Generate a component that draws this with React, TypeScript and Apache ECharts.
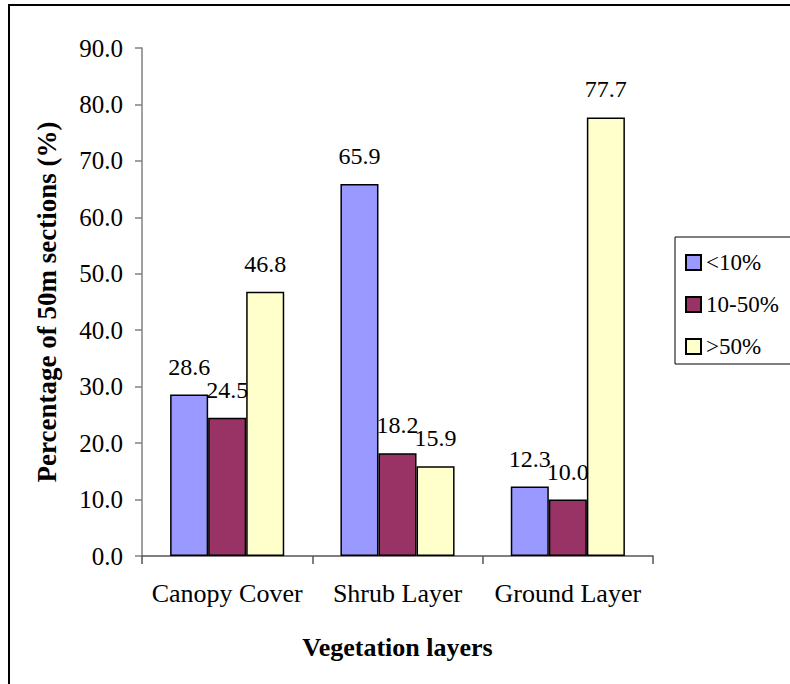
import React, { useEffect, useRef } from "react";
import * as echarts from "echarts";

const categories = ["Canopy Cover", "Shrub Layer", "Ground Layer"];
const seriesNames = ["<10%", "10-50%", ">50%"];
const lowValues = [28.6, 65.9, 12.3];
const midValues = [24.5, 18.2, 10.0];
const highValues = [46.8, 15.9, 77.7];
const seriesColors = ["#9999FF", "#993366", "#FFFFCC"];

const FONT = "Liberation Serif";
const BOLD_FONT = "Times New Roman";

export default function App() {
  const ref = useRef<HTMLDivElement>(null);
  useEffect(() => {
    document.body.style.margin = "0";
    if (!ref.current) return;
    const chart = echarts.init(ref.current, null, { renderer: "svg" });
    const dataSets = [lowValues, midValues, highValues];
    chart.setOption({
      animation: false,
      backgroundColor: "#ffffff",
      textStyle: { fontFamily: FONT, color: "#000" },
      grid: { left: 142, right: 137, top: 48, bottom: 128, containLabel: false },
      legend: {
        orient: "vertical",
        left: 675,
        top: 237,
        padding: [14, 13, 6, 10],
        itemGap: 19,
        itemWidth: 15,
        itemHeight: 15,
        borderColor: "#000",
        borderWidth: 1,
        icon: "rect",
        textStyle: { fontFamily: FONT, fontSize: 23, color: "#000" },
        data: seriesNames,
      },
      xAxis: {
        type: "category",
        data: categories,
        name: "Vegetation layers",
        nameLocation: "middle",
        nameGap: 78,
        nameTextStyle: { fontFamily: BOLD_FONT, fontSize: 26, fontWeight: "bold", color: "#000" },
        axisLine: { show: true, lineStyle: { color: "#555", width: 1.5 } },
        axisTick: { show: true, length: 8, lineStyle: { color: "#555", width: 1.5 } },
        axisLabel: { fontFamily: FONT, fontSize: 26, color: "#000", margin: 24, interval: 0 },
      },
      yAxis: {
        type: "value",
        min: 0,
        max: 90,
        interval: 10,
        name: "Percentage of 50m sections (%)",
        nameLocation: "middle",
        nameGap: 82,
        nameRotate: 90,
        nameTextStyle: { fontFamily: BOLD_FONT, fontSize: 27, fontWeight: "bold", color: "#000" },
        axisLine: { show: true, lineStyle: { color: "#808080", width: 1.5 } },
        axisTick: { show: true, length: 7, lineStyle: { color: "#808080", width: 1.5 } },
        axisLabel: {
          fontFamily: FONT,
          fontSize: 25,
          color: "#000",
          margin: 19,
          formatter: (v: number) => v.toFixed(1),
        },
        splitLine: { show: false },
      },
      series: seriesNames.map((name, i) => ({
        name,
        type: "bar",
        data: dataSets[i],
        barGap: "0%",
        barCategoryGap: "33%",
        itemStyle: { color: seriesColors[i], borderColor: "#000", borderWidth: 1.5 },
        label: {
          show: true,
          position: "top",
          distance: 16,
          fontFamily: FONT,
          fontSize: 24,
          color: "#000",
          formatter: (p: any) => Number(p.value).toFixed(1),
        },
      })),
    });
    return () => chart.dispose();
  }, []);
  return (
    <div style={{ position: "relative", width: 790, height: 684, overflow: "hidden" }}>
      <div ref={ref} style={{ width: 790, height: 684 }} />
      <div
        style={{
          position: "absolute",
          left: 8,
          top: 4,
          width: 800,
          height: 700,
          borderTop: "2.5px solid #000",
          borderLeft: "2.5px solid #000",
          pointerEvents: "none",
        }}
      />
    </div>
  );
}
